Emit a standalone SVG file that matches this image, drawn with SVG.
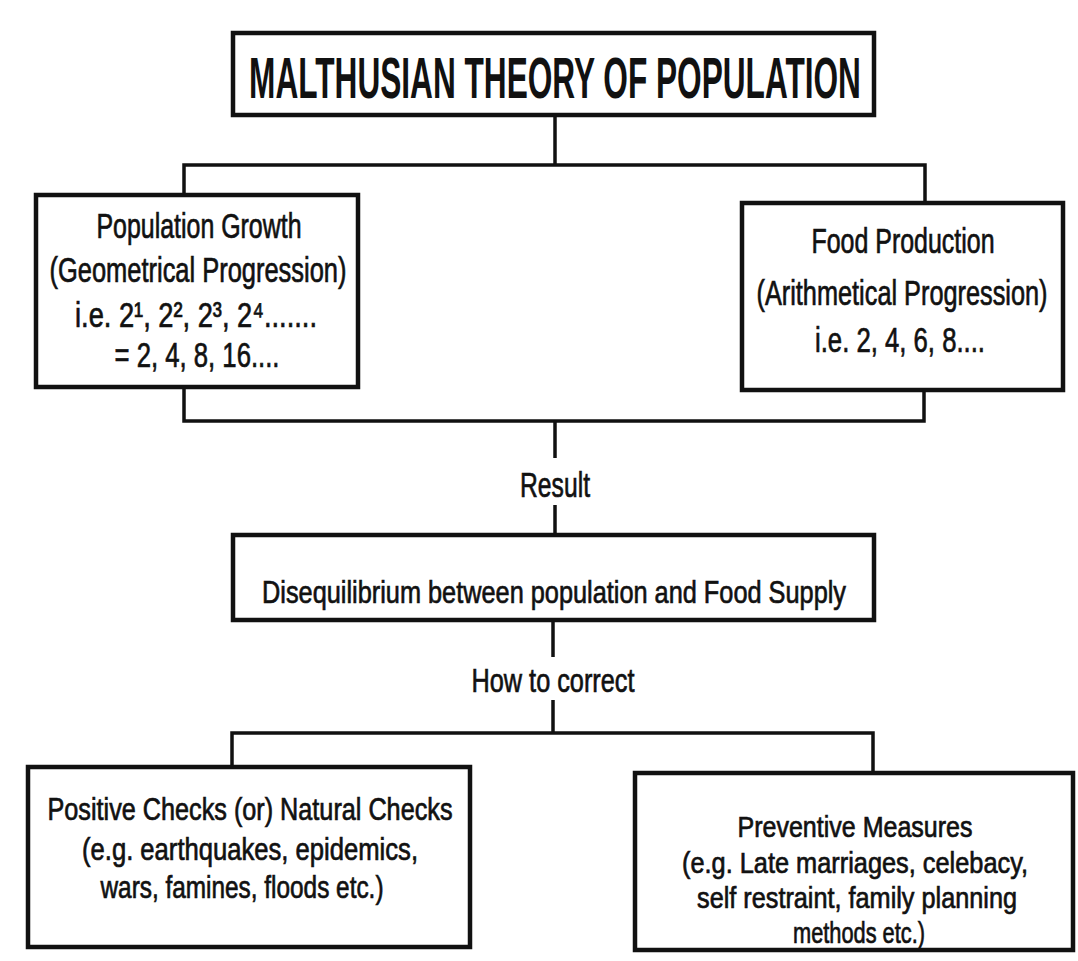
<svg xmlns="http://www.w3.org/2000/svg" width="1078" height="961" viewBox="0 0 1078 961">
<style>
.box{fill:#fff;stroke:#111;stroke-width:4.5}
.con{fill:none;stroke:#111;stroke-width:3.5}
.t{font-family:"Liberation Sans",Arial,sans-serif;fill:#111;text-anchor:middle;stroke:#111;stroke-width:0.7}
.title{font-family:"Liberation Sans",Arial,sans-serif;font-weight:bold;fill:#111;text-anchor:middle}
</style>
<rect width="1078" height="961" fill="#fff"/>
<g id="connectors">
<path class="con" d="M555,115 V165"/>
<path class="con" d="M184,195 V165 H925 V203"/>
<path class="con" d="M184,387 V421 H924 V390"/>
<path class="con" d="M555,421 V458"/>
<path class="con" d="M555,505 V535"/>
<path class="con" d="M553,620 V657"/>
<path class="con" d="M553,700 V733"/>
<path class="con" d="M232,767 V733 H873 V773"/>
</g>
<g id="title">
<rect class="box" x="233" y="33" width="641" height="82"/>
<text class="title" transform="translate(555,98) scale(0.54,1)" x="0" y="0" font-size="58" textLength="1133" lengthAdjust="spacingAndGlyphs">MALTHUSIAN THEORY OF POPULATION</text>
</g>
<g id="population-growth">
<rect class="box" x="36" y="195" width="322" height="192"/>
<text class="t" x="199" y="238" font-size="35" textLength="205" lengthAdjust="spacingAndGlyphs">Population Growth</text>
<text class="t" x="198" y="282" font-size="35" textLength="297" lengthAdjust="spacingAndGlyphs">(Geometrical Progression)</text>
<text class="t" x="196" y="327" font-size="35" textLength="242" lengthAdjust="spacingAndGlyphs">i.e. 2¹, 2², 2³, 2⁴.......</text>
<text class="t" x="197" y="367" font-size="35" textLength="165" lengthAdjust="spacingAndGlyphs">= 2, 4, 8, 16....</text>
</g>
<g id="food-production">
<rect class="box" x="742" y="203" width="321" height="187"/>
<text class="t" x="903" y="253" font-size="35" textLength="183" lengthAdjust="spacingAndGlyphs">Food Production</text>
<text class="t" transform="translate(902,305) scale(0.723,1)" x="0" y="0" font-size="35" textLength="402.5" lengthAdjust="spacingAndGlyphs">(Arithmetical Progression)</text>
<text class="t" x="900" y="352" font-size="35" textLength="170" lengthAdjust="spacingAndGlyphs">i.e. 2, 4, 6, 8....</text>
</g>
<g id="result-label">
<text class="t" x="555" y="497" font-size="35" textLength="70" lengthAdjust="spacingAndGlyphs">Result</text>
</g>
<g id="disequilibrium">
<rect class="box" x="233" y="535" width="641" height="85"/>
<text class="t" x="554" y="603" font-size="32" textLength="584" lengthAdjust="spacingAndGlyphs">Disequilibrium between population and Food Supply</text>
</g>
<g id="how-label">
<text class="t" x="553" y="692" font-size="34" textLength="163" lengthAdjust="spacingAndGlyphs">How to correct</text>
</g>
<g id="positive-checks">
<rect class="box" x="28" y="767" width="442" height="180"/>
<text class="t" x="250" y="820" font-size="31" textLength="405" lengthAdjust="spacingAndGlyphs">Positive Checks (or) Natural Checks</text>
<text class="t" x="250" y="860" font-size="31" textLength="336" lengthAdjust="spacingAndGlyphs">(e.g. earthquakes, epidemics,</text>
<text class="t" x="242" y="898" font-size="31" textLength="283" lengthAdjust="spacingAndGlyphs">wars, famines, floods etc.)</text>
</g>
<g id="preventive-measures">
<rect class="box" x="635" y="773" width="438" height="177"/>
<text class="t" x="855" y="837" font-size="30" textLength="235" lengthAdjust="spacingAndGlyphs">Preventive Measures</text>
<text class="t" transform="translate(855,873) scale(0.84,1)" x="0" y="0" font-size="30" textLength="412" lengthAdjust="spacingAndGlyphs">(e.g. Late marriages, celebacy,</text>
<text class="t" x="857" y="908" font-size="30" textLength="320" lengthAdjust="spacingAndGlyphs">self restraint, family planning</text>
<text class="t" x="859" y="943" font-size="30" textLength="132" lengthAdjust="spacingAndGlyphs">methods etc.)</text>
</g>
</svg>
